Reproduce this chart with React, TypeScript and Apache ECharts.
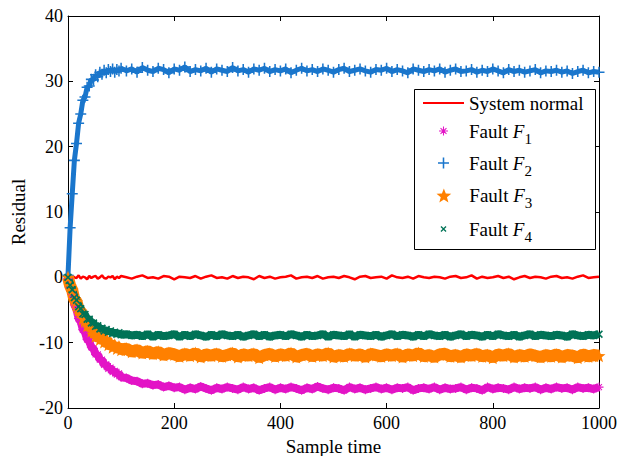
import { useEffect, useRef } from 'react';
import * as echarts from 'echarts';

const sampleTime = [
  0, 4, 8, 12, 16, 20, 24, 28, 32, 36, 40, 44, 48, 52, 56, 60, 64, 68, 72, 76, 80, 84, 88, 92, 96, 100,
  110, 120, 130, 140, 150, 160, 170, 180, 190, 200,
  210, 220, 230, 240, 250, 260, 270, 280, 290, 300,
  310, 320, 330, 340, 350, 360, 370, 380, 390, 400,
  410, 420, 430, 440, 450, 460, 470, 480, 490, 500,
  510, 520, 530, 540, 550, 560, 570, 580, 590, 600,
  610, 620, 630, 640, 650, 660, 670, 680, 690, 700,
  710, 720, 730, 740, 750, 760, 770, 780, 790, 800,
  810, 820, 830, 840, 850, 860, 870, 880, 890, 900,
  910, 920, 930, 940, 950, 960, 970, 980, 990, 1000,
];

const systemNormal = [
  0.1, -0.2, 0.2, 0.0, -0.1, 0.3, -0.2, 0.1, 0.0, -0.3, 0.2, -0.1, 0.1, 0.2, -0.2, 0.0, 0.3, -0.1, -0.2, 0.1, 0.0, 0.2, -0.3, 0.1, -0.1, 0.2,
  0.0, -0.2, 0.1, 0.3, -0.1, 0.0, -0.2, 0.2, 0.1, -0.3,
  0.1, 0.0, -0.1, 0.2, -0.2, 0.1, 0.3, -0.1, 0.0, -0.2,
  0.2, -0.1, 0.1, 0.0, -0.3, 0.2, -0.1, 0.1, -0.2, 0.0,
  0.1, 0.3, -0.2, 0.0, 0.1, -0.1, 0.2, -0.2, 0.0, 0.1,
  -0.1, 0.2, 0.0, -0.3, 0.1, 0.2, -0.1, 0.0, 0.1, -0.2,
  0.3, 0.0, -0.1, 0.1, -0.2, 0.2, 0.0, -0.1, 0.1, 0.0,
  -0.2, 0.1, 0.2, -0.1, 0.0, 0.3, -0.2, 0.1, -0.1, 0.0,
  0.2, -0.1, 0.1, -0.3, 0.0, 0.2, -0.1, 0.1, 0.0, -0.2,
  0.1, 0.2, -0.1, 0.0, -0.2, 0.1, 0.3, -0.1, 0.0, 0.1,
];

const faultF1 = [
  -0.2, -1.6, -2.6, -4.2, -4.9, -6.3, -6.8, -8.0, -8.4, -9.5, -9.8, -10.7, -10.9, -11.8, -11.8, -12.6, -12.6, -13.4, -13.3, -14.0, -13.8, -14.5, -14.3, -14.9, -14.7, -15.3,
  -15.4, -15.8, -15.9, -16.3, -16.2, -16.5, -16.4, -16.8, -16.6, -16.9,
  -16.8, -17.2, -16.9, -17.1, -16.7, -17.0, -17.3, -16.9, -17.1, -16.8,
  -17.0, -17.2, -16.8, -17.1, -16.9, -17.3, -17.0, -16.8, -17.2, -16.9,
  -17.1, -16.8, -17.0, -17.3, -16.9, -17.1, -16.7, -17.0, -17.2, -16.9,
  -17.0, -17.3, -16.8, -17.1, -16.9, -17.2, -17.0, -16.8, -17.1, -16.9,
  -17.2, -16.9, -17.0, -16.8, -17.3, -17.0, -16.9, -17.1, -16.8, -17.2,
  -16.9, -17.1, -17.0, -16.8, -17.2, -16.9, -17.0, -17.3, -16.8, -17.1,
  -16.9, -17.0, -17.2, -16.8, -17.1, -16.9, -17.0, -16.8, -17.2, -16.9,
  -17.1, -16.8, -17.0, -16.9, -17.2, -16.8, -17.0, -16.9, -17.1, -16.8,
];

const faultF2 = [
  0.3, 7.6, 12.8, 17.9, 20.5, 23.6, 25.0, 27.1, 27.6, 29.1, 29.3, 30.3, 30.2, 31.0, 30.7, 31.4, 31.1, 31.7, 31.3, 31.8, 31.5, 31.9, 31.4, 31.8, 31.6, 32.0,
  31.6, 31.9, 31.4, 32.1, 31.7, 31.5, 32.0, 31.8, 31.3, 31.9,
  31.7, 32.2, 31.5, 31.8, 31.6, 32.0, 31.4, 31.9, 31.7, 31.5,
  32.1, 31.6, 31.8, 31.4, 31.9, 31.7, 32.0, 31.5, 31.8, 31.6,
  31.9, 31.3, 31.7, 32.0, 31.6, 31.8, 31.5, 31.9, 31.7, 31.4,
  31.8, 32.0, 31.5, 31.7, 31.9, 31.6, 31.4, 31.8, 31.7, 32.0,
  31.5, 31.8, 31.6, 31.3, 31.9, 31.7, 31.5, 31.8, 31.6, 31.9,
  31.4, 31.7, 31.9, 31.5, 31.6, 31.8, 31.4, 31.7, 31.5, 31.9,
  31.6, 31.3, 31.8, 31.5, 31.7, 31.4, 31.6, 31.8, 31.3, 31.6,
  31.5, 31.7, 31.4, 31.6, 31.2, 31.5, 31.7, 31.3, 31.5, 31.4,
];

const faultF3 = [
  0.0, -1.3, -2.0, -3.4, -3.7, -5.0, -5.2, -6.3, -6.4, -7.4, -7.3, -8.2, -8.1, -9.0, -8.8, -9.5, -9.1, -9.9, -9.6, -10.3, -10.1, -10.7, -10.3, -10.9, -10.6, -11.1,
  -10.9, -11.4, -11.1, -11.6, -11.3, -11.7, -11.4, -11.9, -11.6, -11.8,
  -12.1, -11.7, -12.0, -11.6, -12.2, -11.8, -12.0, -11.7, -12.1, -11.9,
  -11.6, -12.2, -11.8, -12.0, -11.7, -12.3, -11.9, -11.7, -12.1, -11.8,
  -12.0, -11.6, -12.2, -11.9, -11.7, -12.1, -11.8, -12.0, -11.6, -12.2,
  -11.9, -12.1, -11.7, -12.0, -11.8, -12.2, -11.7, -11.9, -12.1, -11.8,
  -12.0, -11.7, -12.2, -11.8, -12.0, -11.6, -12.1, -11.9, -12.2, -11.8,
  -11.7, -12.1, -11.9, -12.2, -11.8, -12.0, -11.7, -12.1, -11.9, -12.3,
  -11.8, -12.0, -11.7, -12.2, -11.9, -12.1, -11.8, -12.0, -12.2, -11.9,
  -12.1, -11.8, -12.2, -11.9, -12.0, -12.3, -11.8, -12.1, -11.9, -12.0,
];

const faultF4 = [
  0.0, -1.2, -1.9, -3.1, -3.5, -4.5, -4.8, -5.6, -5.7, -6.4, -6.4, -7.0, -7.0, -7.5, -7.4, -7.9, -7.8, -8.2, -8.0, -8.4, -8.2, -8.6, -8.4, -8.7, -8.5, -8.8,
  -8.7, -8.9, -8.8, -9.0, -8.7, -9.1, -8.8, -9.0, -8.9, -8.7,
  -9.1, -8.8, -9.0, -8.7, -8.9, -9.1, -8.8, -9.0, -8.7, -8.9,
  -9.0, -8.8, -9.1, -8.9, -8.7, -9.0, -8.8, -9.1, -8.9, -8.8,
  -9.0, -8.7, -8.9, -9.1, -8.8, -9.0, -8.9, -8.7, -9.1, -8.8,
  -8.9, -9.0, -8.7, -9.1, -8.8, -8.9, -9.0, -8.8, -9.1, -8.9,
  -8.7, -9.0, -8.8, -8.9, -9.1, -8.8, -9.0, -8.7, -8.9, -9.0,
  -8.8, -9.1, -8.9, -8.7, -9.0, -8.8, -8.9, -9.1, -8.8, -9.0,
  -8.7, -8.9, -9.0, -8.8, -9.1, -8.9, -8.7, -9.0, -8.8, -8.9,
  -9.0, -8.8, -8.9, -9.1, -8.7, -8.9, -9.0, -8.8, -8.9, -8.7,
];

const xTicks = { min: 0, max: 1000, interval: 200 };
const yTicks = { min: -20, max: 40, interval: 10 };

const FONT = '"Liberation Serif", "Times New Roman", Times, serif';
const C_NORMAL = '#ff0000';
const C_F1 = '#e314c6';
const C_F2 = '#1a76cc';
const C_F3 = '#ff8000';
const C_F4 = '#007357';

const PLUS = 'path://M4.3,0H5.7V4.3H10V5.7H5.7V10H4.3V5.7H0V4.3H4.3Z';
const ASTER =
  'path://M4.4,0H5.6V4.4H10V5.6H5.6V10H4.4V5.6H0V4.4H4.4Z M1.3,2.1L2.1,1.3L5,4.2L7.9,1.3L8.7,2.1L5.8,5L8.7,7.9L7.9,8.7L5,5.8L2.1,8.7L1.3,7.9L4.2,5Z';
const STAR = 'path://M5,0L6.25,3.3L9.76,3.45L7,5.6L7.94,9.05L5,7.1L2.06,9.05L3,5.6L0.24,3.45L3.75,3.3Z';
const XMARK = 'path://M0,1.5L1.5,0L5,3.5L8.5,0L10,1.5L6.5,5L10,8.5L8.5,10L5,6.5L1.5,10L0,8.5L3.5,5Z';
const LINE_ICON = 'path://M0,0H41V2H0Z';

const rich = {
  n: { fontFamily: FONT, fontSize: 19, lineHeight: 30, color: '#000' },
  i: { fontFamily: FONT, fontSize: 19, lineHeight: 30, color: '#000', fontStyle: 'italic' },
  s: { fontFamily: FONT, fontSize: 15, lineHeight: 16, color: '#000', verticalAlign: 'bottom' },
};

const legendFormatter = (name: string) =>
  name === 'System normal' ? '{n|System normal}' : `{n|Fault }{i|F}{s|${name.slice(-1)}}`;

const ICON_BOX_LEFT = 423;
const ICON_BOX_WIDTH = 41;

function mkLegend(name: string, icon: string, iconSize: number, top: number, fullWidth = false) {
  // legend is laid out by its bounding box; a square icon sits centred in the 41px slot
  const left = fullWidth ? ICON_BOX_LEFT : ICON_BOX_LEFT + (ICON_BOX_WIDTH - iconSize) / 2;
  return {
    data: [name],
    icon,
    itemWidth: ICON_BOX_WIDTH,
    itemHeight: iconSize,
    left,
    top,
    padding: 0,
    orient: 'horizontal',
    selectedMode: false,
    formatter: legendFormatter,
    textStyle: { fontFamily: FONT, fontSize: 19, color: '#000', rich },
    z: 10,
  };
}

const pairs = (ys: number[]) => sampleTime.map((t, i) => [t, ys[i]]);

export default function App() {
  const ref = useRef<HTMLDivElement>(null);
  useEffect(() => {
    if (!ref.current) return;
    const chart = echarts.init(ref.current, undefined, { renderer: 'svg' });
    const axisLine = { show: true, onZero: false, lineStyle: { color: '#000', width: 1 } };
    const axisTick = { show: true, inside: true, length: 5, lineStyle: { color: '#000', width: 1 } };
    const labelStyle = { fontFamily: FONT, fontSize: 18, color: '#000', formatter: (v: number) => String(v) };
    chart.setOption({
      animation: false,
      backgroundColor: '#fff',
      grid: { left: 68, right: 19, top: 16, bottom: 48, containLabel: false, outerBoundsMode: 'none' },
      xAxis: [
        {
          type: 'value', ...xTicks, position: 'bottom', axisLine, axisTick,
          axisLabel: { ...labelStyle, margin: 6 },
          splitLine: { show: false },
          name: 'Sample time', nameLocation: 'middle', nameGap: 18,
          nameTextStyle: { fontFamily: FONT, fontSize: 19, color: '#000' },
        },
        {
          type: 'value', ...xTicks, position: 'top', axisLine, axisTick,
          axisLabel: { show: false }, splitLine: { show: false },
        },
      ],
      yAxis: [
        {
          type: 'value', ...yTicks, position: 'left', axisLine, axisTick,
          axisLabel: { ...labelStyle, margin: 5 },
          splitLine: { show: false },
          name: 'Residual', nameLocation: 'middle', nameGap: 30,
          nameTextStyle: { fontFamily: FONT, fontSize: 19, color: '#000' },
        },
        {
          type: 'value', ...yTicks, position: 'right', axisLine, axisTick,
          axisLabel: { show: false }, splitLine: { show: false },
        },
      ],
      legend: [
        mkLegend('System normal', LINE_ICON, 10, 93.5, true),
        mkLegend('Fault F1', ASTER, 9, 121.5),
        mkLegend('Fault F2', PLUS, 11, 153.5),
        mkLegend('Fault F3', STAR, 14, 186),
        mkLegend('Fault F4', XMARK, 6, 219.5),
      ],
      graphic: [
        {
          type: 'rect', z: 5,
          shape: { x: 414.5, y: 89.5, width: 181, height: 160 },
          style: { fill: '#fff', stroke: '#000', lineWidth: 1 },
        },
      ],
      series: [
        {
          name: 'System normal', type: 'line', data: pairs(systemNormal), symbol: 'none',
          lineStyle: { color: C_NORMAL, width: 2.5 }, itemStyle: { color: C_NORMAL },
        },
        {
          name: 'Fault F2', type: 'line', data: pairs(faultF2), symbol: PLUS, symbolSize: 11, showAllSymbol: true,
          lineStyle: { color: C_F2, width: 5 }, itemStyle: { color: C_F2 },
        },
        {
          name: 'Fault F1', type: 'line', data: pairs(faultF1), symbol: ASTER, symbolSize: 9, showAllSymbol: true,
          lineStyle: { color: C_F1, width: 8 }, itemStyle: { color: C_F1 },
        },
        {
          name: 'Fault F3', type: 'line', data: pairs(faultF3), symbol: STAR, symbolSize: 13, showAllSymbol: true,
          lineStyle: { color: C_F3, width: 12 }, itemStyle: { color: C_F3 },
        },
        {
          name: 'Fault F4', type: 'line', data: pairs(faultF4), symbol: XMARK, symbolSize: 8, showAllSymbol: true,
          lineStyle: { color: C_F4, width: 8 }, itemStyle: { color: C_F4 },
        },
      ],
    });
    return () => chart.dispose();
  }, []);
  return <div ref={ref} style={{ position: 'fixed', left: 0, top: 0, width: 618, height: 456 }} />;
}
